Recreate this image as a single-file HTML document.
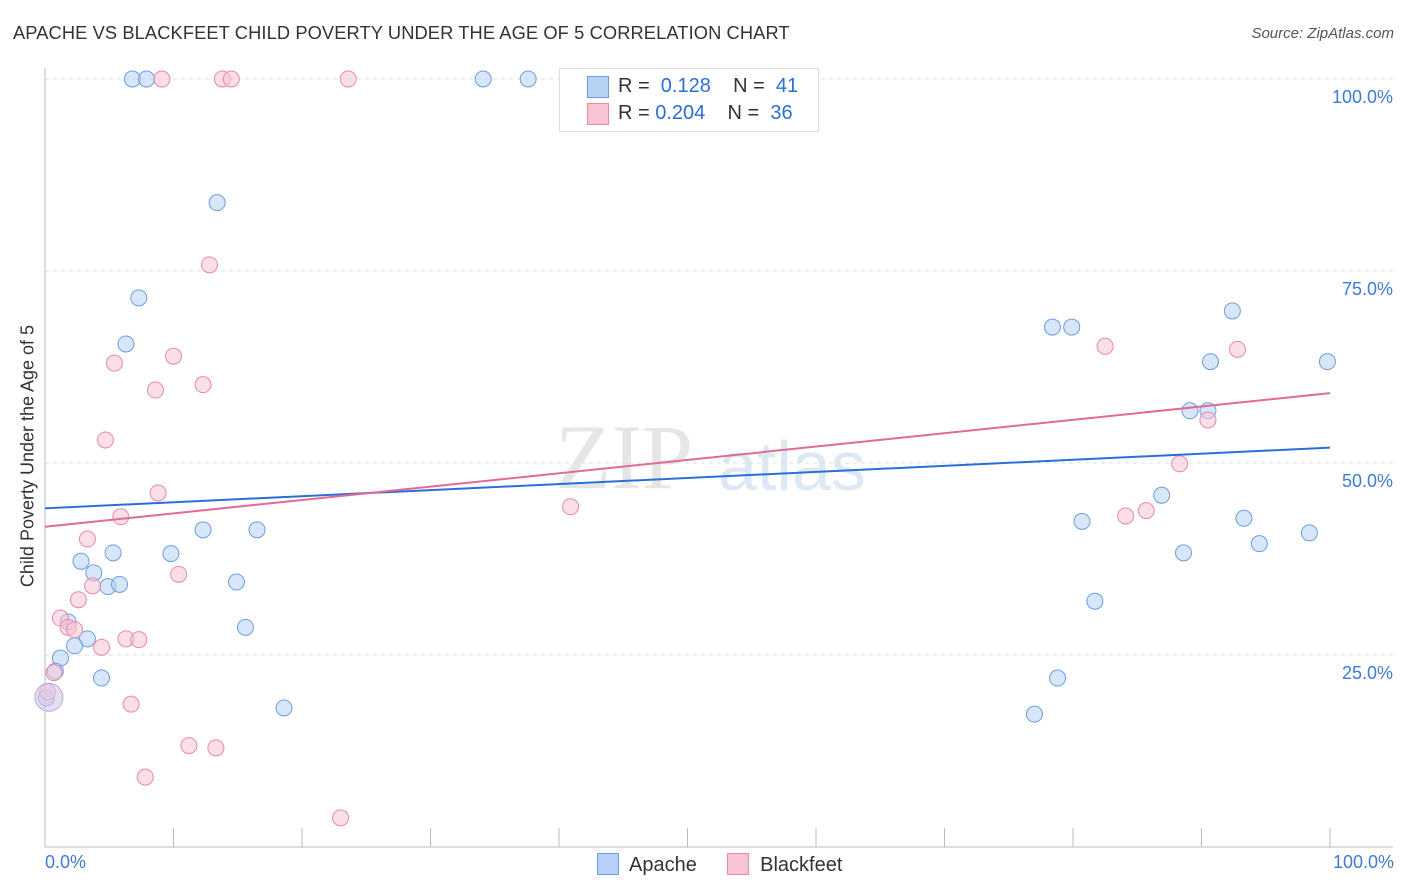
<!DOCTYPE html>
<html><head><meta charset="utf-8">
<style>
body{margin:0;background:#fff;font-family:"Liberation Sans",sans-serif;}
#wrap{position:relative;width:1406px;height:892px;overflow:hidden;}
.t{position:absolute;white-space:nowrap;}
</style></head>
<body><div id="wrap">
<div class="t" style="left:13px;top:22px;font-size:18.3px;letter-spacing:0.1px;color:#333;">APACHE VS BLACKFEET CHILD POVERTY UNDER THE AGE OF 5 CORRELATION CHART</div>
<div class="t" style="right:12px;top:25px;font-size:15px;color:#555;font-style:italic;">Source: ZipAtlas.com</div>
<svg id="plot" width="1406" height="892" style="position:absolute;left:0;top:0"></svg>
</div>
<script>
const apacheX=[6.8,7.9,34.1,37.6,13.4,7.3,6.3,5.3,2.8,3.8,4.9,5.8,9.8,12.3,16.5,14.9,15.6,1.8,3.3,2.3,1.2,0.8,4.4,18.6,0.1,78.4,79.9,92.4,90.7,99.8,89.1,90.5,86.9,80.7,93.3,94.5,98.4,88.6,81.7,78.8,77.0];
const apacheY=[100,100,100,100,83.9,71.5,65.5,38.3,37.2,35.7,33.9,34.2,38.2,41.3,41.3,34.5,28.6,29.3,27.1,26.2,24.6,22.9,22.0,18.1,19.4,67.7,67.7,69.8,63.2,63.2,56.8,56.8,45.8,42.4,42.8,39.5,40.9,38.3,32.0,22.0,17.3];
const blackX=[9.1,13.8,14.5,23.6,12.8,10.0,5.4,12.3,8.6,4.7,8.8,5.9,3.3,10.4,3.7,2.6,1.2,1.8,2.3,6.3,7.3,4.4,0.7,0.2,6.7,11.2,13.3,7.8,23.0,40.9,82.5,92.8,90.5,88.3,84.1,85.7];
const blackY=[100,100,100,100,75.8,63.9,63.0,60.2,59.5,53.0,46.1,43.0,40.1,35.5,34.0,32.2,29.8,28.6,28.3,27.1,27.0,26.0,22.7,20.2,18.6,13.2,12.9,9.1,3.8,44.3,65.2,64.8,55.6,49.9,43.1,43.8];
const apacheLine=[44.1,52.0];
const blackLine=[41.7,59.1];
const yTicks=[25,50,75,100];
const yTickLabels=["25.0%","50.0%","75.0%","100.0%"];
const NS="http://www.w3.org/2000/svg";
const svg=document.getElementById('plot');
const X=v=>45+v*12.85, Y=v=>847-v*7.68;
function mk(tag,attrs){const e=document.createElementNS(NS,tag);for(const k in attrs)e.setAttribute(k,attrs[k]);svg.appendChild(e);return e;}
let w=mk('text',{x:555,y:488,'font-size':92,'font-family':'Liberation Serif',fill:'#e6e6e6'});w.textContent='ZIP';


let w2=mk('text',{x:718,y:490,'font-size':70,'font-family':'Liberation Sans',fill:'#dde8f5'});w2.textContent='atlas';


yTicks.forEach((t,i)=>{
  const g=mk('line',{x1:45,x2:1393,y1:Y(t),y2:Y(t),stroke:'#ddd','stroke-dasharray':'4,4'});
  
  
  const l=mk('text',{x:1393,y:Y(t)+24,'text-anchor':'end','font-size':18,fill:'#3d7bd6'});l.textContent=yTickLabels[i];
  
  
});
let ax=mk('line',{x1:45,x2:1393,y1:847,y2:847,stroke:'#bbb'});


let ay=mk('line',{x1:45,x2:45,y1:68,y2:847,stroke:'#bbb'});


for(let i=0;i<=10;i++){const tk=mk('line',{x1:X(i*10),x2:X(i*10),y1:828,y2:847,stroke:'#bbb'});
  
  }
function pts(xs,ys,fill,stroke,name){xs.forEach((v,i)=>{const c=mk('circle',{cx:X(v),cy:Y(ys[i]),r:8,fill:fill,'fill-opacity':0.55,stroke:stroke,'stroke-width':1});
  
  });}
pts(apacheX,apacheY,'#b8d2f5','#6a9ee0','apache-point');
pts(blackX,blackY,'#f8c4d4','#e68aa8','blackfeet-point');
let big=mk('circle',{cx:X(0.3),cy:Y(19.5),r:14,fill:'#d8c8e8','fill-opacity':0.6,stroke:'#c0a8d8'});


let l1=mk('line',{x1:X(0),x2:X(100),y1:Y(apacheLine[0]),y2:Y(apacheLine[1]),stroke:'#2a6fd6','stroke-width':2});


let l2=mk('line',{x1:X(0),x2:X(100),y1:Y(blackLine[0]),y2:Y(blackLine[1]),stroke:'#e26a96','stroke-width':2});


</script>
<div class="t" style="left:28px;top:456px;font-size:18px;color:#333;transform:translate(-50%,-50%) rotate(-90deg);">Child Poverty Under the Age of 5</div>
<div class="t" style="left:45px;top:852px;font-size:18px;color:#3d7bd6;">0.0%</div>
<div class="t" style="right:12px;top:852px;font-size:18px;color:#3d7bd6;">100.0%</div>
<div style="position:absolute;left:559px;top:68px;width:258px;height:62px;border:1px solid #ddd;background:#fff;font-size:20px;color:#333;">
 <div style="position:absolute;left:27px;top:7px;width:20px;height:20px;background:#b8d2f5;border:1px solid #6a9ee0;"></div>
 <div class="t" style="left:58px;top:6px;">R = <span style="color:#2a6fd6">&nbsp;0.128</span>&nbsp;&nbsp;&nbsp; N = <span style="color:#2a6fd6">&nbsp;41</span></div>
 <div style="position:absolute;left:27px;top:34px;width:20px;height:20px;background:#f8c4d4;border:1px solid #e68aa8;"></div>
 <div class="t" style="left:58px;top:33px;">R = <span style="color:#2a6fd6">0.204</span>&nbsp;&nbsp;&nbsp; N = <span style="color:#2a6fd6">&nbsp;36</span></div>
</div>
<div style="position:absolute;left:597px;top:853px;font-size:20px;color:#333;">
 <span style="display:inline-block;width:20px;height:20px;background:#b8d2f5;border:1px solid #6a9ee0;vertical-align:-4px;"></span>&nbsp; Apache</div>
<div style="position:absolute;left:727px;top:853px;font-size:20px;color:#333;">
 <span style="display:inline-block;width:20px;height:20px;background:#f8c4d4;border:1px solid #e68aa8;vertical-align:-4px;"></span>&nbsp; Blackfeet</div>
</body></html>
